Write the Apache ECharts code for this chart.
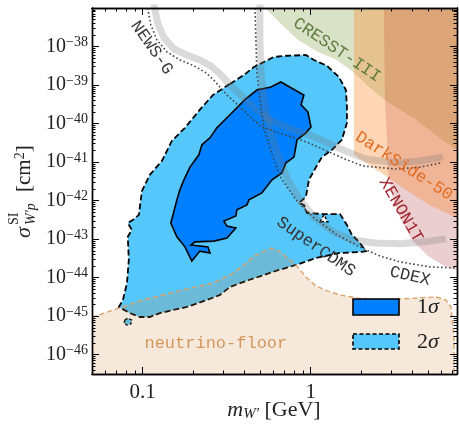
<!DOCTYPE html>
<html>
<head>
<meta charset="utf-8">
<script src="https://cdn.jsdelivr.net/npm/echarts@6/dist/echarts.min.js"></script>
<style>
  html, body { margin: 0; padding: 0; background: #fff; }
  #chart { width: 459px; height: 424px; }
</style>
</head>
<body>
<div id="chart"></div>
<script>
// Log-log plot: all coordinates are [log10(m_W' / GeV), log10(sigma / cm^2)]
const massRangeLog = [-1.30103, 0.871];
const sigmaRangeLog = [-46.5, -37];

const massTicks = [0.1, 1];
const massTickLabels = ['0.1', '1'];
const massMinorTicks = [0.06, 0.07, 0.08, 0.09, 0.2, 0.3, 0.4, 0.5, 0.6, 0.7, 0.8, 0.9, 2, 3, 4, 5, 6, 7];
const sigmaDecades = [-46, -45, -44, -43, -42, -41, -40, -39, -38];

// 2 sigma and 1 sigma regions of the fit
const contour2Sigma = [
  [-0.480,-38.97],[-0.397,-38.74],[-0.337,-38.53],[-0.278,-38.40],[-0.218,-38.27],[-0.141,-38.24],
  [-0.028,-38.22],[0.020,-38.35],[0.097,-38.50],[0.168,-38.79],[0.210,-39.13],[0.216,-39.57],
  [0.216,-39.98],[0.186,-40.42],[0.127,-40.68],[0.067,-40.87],[0.032,-41.13],[-0.010,-41.46],
  [-0.028,-41.90],[-0.069,-42.06],[-0.040,-42.11],[-0.022,-42.32],[0.079,-42.35],[0.175,-42.35],
  [0.216,-42.63],[0.246,-42.89],[0.288,-43.07],[0.329,-43.31],[0.305,-43.33],[0.168,-43.36],
  [0.032,-43.49],[-0.087,-43.67],[-0.189,-43.80],[-0.367,-44.06],[-0.480,-44.24],[-0.540,-44.45],
  [-0.617,-44.58],[-0.736,-44.76],[-0.820,-44.84],[-0.897,-44.92],[-0.957,-45.02],[-1.016,-45.02],
  [-1.076,-44.92],[-1.141,-44.76],[-1.117,-44.58],[-1.093,-44.14],[-1.082,-43.54],[-1.088,-42.94],
  [-1.064,-42.76],[-1.088,-42.58],[-1.058,-42.50],[-1.022,-42.37],[-1.004,-41.75],[-0.957,-41.33],
  [-0.885,-40.97],[-0.826,-40.45],[-0.748,-40.11],[-0.659,-39.64],[-0.582,-39.26]
];
const island2Sigma = [[-1.105,-45.10],[-1.088,-45.05],[-1.064,-45.10],[-1.070,-45.20],[-1.093,-45.23],[-1.111,-45.18]];
const hole2Sigma = [[0.055,-42.55],[0.079,-42.37],[0.103,-42.55]];
const contour1Sigma = [
  [-0.177,-38.92],[-0.117,-39.07],[-0.040,-39.26],[-0.057,-39.51],[-0.016,-39.70],[0.002,-40.09],
  [-0.028,-40.24],[-0.081,-40.42],[-0.099,-40.87],[-0.147,-41.02],[-0.171,-41.28],[-0.230,-41.46],
  [-0.290,-41.80],[-0.367,-41.98],[-0.379,-42.11],[-0.439,-42.24],[-0.445,-42.40],[-0.516,-42.53],
  [-0.498,-42.66],[-0.445,-42.71],[-0.498,-42.97],[-0.576,-43.05],[-0.689,-43.07],[-0.712,-43.15],
  [-0.611,-43.20],[-0.599,-43.36],[-0.659,-43.31],[-0.707,-43.57],[-0.748,-43.20],[-0.796,-42.94],
  [-0.832,-42.58],[-0.814,-42.29],[-0.796,-41.98],[-0.778,-41.72],[-0.754,-41.46],[-0.718,-41.13],
  [-0.665,-40.81],[-0.647,-40.55],[-0.599,-40.37],[-0.558,-40.11],[-0.480,-39.77],[-0.391,-39.38],
  [-0.320,-39.13],[-0.236,-39.05]
];

// Neutrino floor boundary
const neutrinoFloor = [
  [-1.30103,-45.03],[-1.141,-44.79],[-0.998,-44.58],[-0.855,-44.42],[-0.736,-44.29],[-0.582,-44.14],
  [-0.468,-43.90],[-0.397,-43.67],[-0.337,-43.44],[-0.278,-43.31],[-0.230,-43.23],[-0.183,-43.33],
  [-0.087,-43.67],[-0.028,-43.98],[0.032,-44.22],[0.103,-44.35],[0.175,-44.45],[0.282,-44.53],
  [0.347,-44.55],[0.549,-44.55],[0.746,-44.50],[0.805,-44.58],[0.835,-44.76],[0.853,-45.54],[0.853,-46.5]
];

// Excluded regions
const cresstBoundary = [
  [-0.271,-37.0],[-0.183,-37.38],[-0.075,-37.83],[0.044,-38.14],[0.157,-38.35],[0.252,-38.66],
  [0.353,-39.07],[0.448,-39.41],[0.627,-39.90],[0.782,-40.42],[0.871,-40.68],[0.871,-37.0]
];
const darksideBoundary = [
  [0.258,-37.0],[0.258,-40.81],[0.347,-41.07],[0.448,-41.36],[0.549,-41.67],[0.704,-42.11],
  [0.871,-42.45],[0.871,-37.0]
];
const xenonBoundary = [
  [0.436,-37.0],[0.442,-39.38],[0.454,-40.42],[0.460,-41.20],[0.484,-41.85],[0.532,-42.45],
  [0.603,-43.02],[0.698,-43.44],[0.799,-43.70],[0.871,-43.80],[0.871,-37.0]
];

// Limit curves: shaded band and dotted line
const newsGBand = [
  [-0.933,-36.9],[-0.909,-37.41],[-0.873,-37.77],[-0.814,-38.06],[-0.736,-38.22],[-0.659,-38.35],
  [-0.594,-38.50],[-0.540,-38.71],[-0.462,-39.07],[-0.379,-39.41],[-0.314,-39.67],[-0.254,-39.88],
  [-0.135,-40.11],[-0.010,-40.29],[0.115,-40.53],[0.222,-40.74],[0.329,-40.92],[0.514,-41.02],
  [0.651,-40.97],[0.788,-40.87]
];
const newsGLimit = [
  [-0.974,-36.9],[-0.951,-37.44],[-0.915,-37.83],[-0.855,-38.14],[-0.778,-38.35],[-0.695,-38.50],
  [-0.623,-38.68],[-0.576,-38.87],[-0.498,-39.26],[-0.415,-39.59],[-0.355,-39.85],[-0.290,-40.09],
  [-0.153,-40.29],[-0.022,-40.48],[0.097,-40.71],[0.204,-40.92],[0.311,-41.10],[0.508,-41.18],
  [0.651,-41.13],[0.776,-41.02]
];
const superCdmsBand = [
  [-0.302,-36.9],[-0.302,-37.83],[-0.296,-38.61],[-0.278,-39.38],[-0.242,-40.16],[-0.195,-40.81],
  [-0.135,-41.46],[-0.064,-41.98],[0.026,-42.45],[0.133,-42.81],[0.246,-43.02],[0.383,-43.10],
  [0.532,-43.12],[0.680,-43.07],[0.805,-42.99]
];
const superCdmsLimit = [
  [-0.332,-36.9],[-0.326,-37.83],[-0.320,-38.66],[-0.302,-39.38],[-0.278,-40.11],[-0.230,-40.81],
  [-0.177,-41.41],[-0.081,-42.01],[0.020,-42.45],[0.157,-42.89],[0.293,-43.20],[0.413,-43.44],
  [0.532,-43.59],[0.710,-43.72],[0.871,-43.75]
];

// Curve labels
const annotationTexts = ['NEWS-G', 'CRESST-III', 'DarkSide-50', 'XENON1T', 'SuperCDMS', 'CDEX', 'neutrino-floor'];
const annotationAnchors = [[-0.945,-38.03],[0.157,-38.09],[0.555,-41.10],[0.537,-42.24],[0.032,-43.20],[0.591,-43.96],[-0.564,-45.70]];
const annotationLook = [
  { angle: 55, color: '#3a3a3a' },
  { angle: 34, color: '#5d7c3c' },
  { angle: 33, color: '#e26d22' },
  { angle: 60, color: '#a3232e' },
  { angle: 35, color: '#333333' },
  { angle: 13, color: '#333333' },
  { angle: 0,  color: '#d4975a' }
];

const L = Math.log10;
const serif = "'Liberation Serif', 'DejaVu Serif', serif";
const mono = "'Liberation Mono', 'DejaVu Sans Mono', monospace";

const sigmaMinor = [];
for (let d = -47; d <= -38; d++) {
  for (let k = 2; k <= 9; k++) {
    const v = d + L(k);
    if (v > sigmaRangeLog[0] && v < sigmaRangeLog[1]) sigmaMinor.push(v);
  }
}

function axis(dim, position, values, len, withLabels) {
  const range = dim === 'x' ? massRangeLog : sigmaRangeLog;
  const a = {
    type: 'value', position, min: range[0], max: range[1], z: 20,
    axisLine: { show: true, onZero: false, lineStyle: { color: '#000', width: 1.4 } },
    axisTick: { show: true, inside: true, length: len, customValues: values, lineStyle: { color: '#000', width: 1 } },
    splitLine: { show: false },
    axisLabel: { show: false }
  };
  if (withLabels && dim === 'x') {
    a.axisLabel = {
      show: true, customValues: values, margin: 8, color: '#222',
      fontFamily: serif, fontSize: 21,
      formatter: v => massTickLabels[massTicks.findIndex(m => Math.abs(L(m) - v) < 1e-6)]
    };
  }
  if (withLabels && dim === 'y') {
    a.axisLabel = {
      show: true, customValues: values, margin: 4, color: '#222',
      formatter: v => '{b|10}{s|\u2212' + Math.abs(Math.round(v)) + '}',
      rich: {
        b: { fontFamily: serif, fontSize: 20, lineHeight: 22, color: '#222' },
        s: { fontFamily: serif, fontSize: 14, lineHeight: 14, verticalAlign: 'top', color: '#222' }
      }
    };
  }
  return a;
}

function polygonSeries(name, pts, style, z) {
  return {
    type: 'custom', name, z, silent: true, clip: true,
    data: pts, encode: { x: 0, y: 1 },
    renderItem(params, api) {
      if (params.dataIndex !== 0) return null;
      return { type: 'polygon', shape: { points: pts.map(p => api.coord(p)) }, style };
    }
  };
}

function lineSeries(name, pts, lineStyle, z) {
  return {
    type: 'line', name, z, data: pts, symbol: 'none', showSymbol: false,
    silent: true, clip: true, lineStyle
  };
}

const bandStyle = { color: 'rgba(120,120,120,0.27)', width: 7, cap: 'butt', join: 'round' };
const dotStyle = { color: '#444', width: 1.6, type: [1.6, 2.4], cap: 'butt' };

const series = [
  polygonSeries('CRESST-III', cresstBoundary, { fill: 'rgba(107,142,35,0.26)' }, 1),
  polygonSeries('XENON1T', xenonBoundary, { fill: 'rgba(170,50,60,0.24)' }, 2),
  polygonSeries('DarkSide-50', darksideBoundary, { fill: 'rgba(252,127,27,0.32)' }, 3),
  polygonSeries('2sigma', contour2Sigma, { fill: '#56c7fa', stroke: '#000', lineWidth: 1.8, lineDash: [6, 3] }, 4),
  polygonSeries('2sigma island', island2Sigma, { fill: '#56c7fa', stroke: '#000', lineWidth: 1.4, lineDash: [3, 2] }, 4),
  polygonSeries('2sigma hole', hole2Sigma, { fill: '#fff', stroke: '#000', lineWidth: 1.4, lineDash: [3, 2] }, 4),
  polygonSeries('1sigma', contour1Sigma, { fill: '#0080fe', stroke: '#000', lineWidth: 1.6 }, 5),
  polygonSeries('neutrino floor', neutrinoFloor.concat([[massRangeLog[0], sigmaRangeLog[0]]]), { fill: 'rgba(205,133,63,0.18)' }, 6),
  lineSeries('NEWS-G band', newsGBand, bandStyle, 7),
  lineSeries('SuperCDMS band', superCdmsBand, bandStyle, 7),
  lineSeries('NEWS-G', newsGLimit, dotStyle, 8),
  lineSeries('SuperCDMS', superCdmsLimit, dotStyle, 8),
  lineSeries('neutrino floor edge', neutrinoFloor, { color: '#dba36b', width: 1.4, type: [5, 3] }, 9),
  {
    type: 'custom', name: 'labels', z: 10, silent: true, clip: false,
    data: annotationAnchors, encode: { x: 0, y: 1 },
    renderItem(params, api) {
      const i = params.dataIndex;
      const p = api.coord(annotationAnchors[i]);
      return {
        type: 'text', x: p[0], y: p[1], rotation: -annotationLook[i].angle * Math.PI / 180,
        style: { text: annotationTexts[i], fill: annotationLook[i].color, font: '17px ' + mono, align: 'center', verticalAlign: 'middle' }
      };
    }
  }
];

const legendFont = { b: { fontFamily: serif, fontSize: 22, fill: '#222' }, i: { fontFamily: serif, fontStyle: 'italic', fontSize: 22, fill: '#222' } };

const option = {
  animation: false,
  grid: { left: 92, right: 2, top: 8, bottom: 50 },
  xAxis: [
    axis('x', 'bottom', massTicks.map(L), 7, true),
    axis('x', 'bottom', massMinorTicks.map(L), 3.5, false),
    axis('x', 'top', massTicks.map(L), 7, false),
    axis('x', 'top', massMinorTicks.map(L), 3.5, false)
  ],
  yAxis: [
    axis('y', 'left', sigmaDecades, 7, true),
    axis('y', 'left', sigmaMinor, 3.5, false),
    axis('y', 'right', sigmaDecades, 7, false),
    axis('y', 'right', sigmaMinor, 3.5, false)
  ],
  series,
  graphic: [
    // legend
    { type: 'rect', z: 30, shape: { x: 353, y: 299, width: 46, height: 16 }, style: { fill: '#0080fe', stroke: '#000', lineWidth: 1.6 } },
    { type: 'rect', z: 30, shape: { x: 353, y: 334, width: 46, height: 15 }, style: { fill: '#56c7fa', stroke: '#000', lineWidth: 1.6, lineDash: [4, 2.5] } },
    { type: 'text', z: 30, x: 417, y: 307, style: { text: '{b|1}{i|\u03c3}', rich: legendFont, verticalAlign: 'middle', align: 'left' } },
    { type: 'text', z: 30, x: 417, y: 342, style: { text: '{b|2}{i|\u03c3}', rich: legendFont, verticalAlign: 'middle', align: 'left' } },
    // x axis title
    {
      type: 'text', z: 30, x: 274, y: 410,
      style: {
        text: '{i|m}{s|W\u2032}{b| [GeV]}', align: 'center', verticalAlign: 'middle',
        rich: {
          i: { fontFamily: serif, fontStyle: 'italic', fontSize: 22, lineHeight: 24, fill: '#222' },
          s: { fontFamily: serif, fontStyle: 'italic', fontSize: 15, lineHeight: 15, verticalAlign: 'bottom', fill: '#222' },
          b: { fontFamily: serif, fontSize: 22, lineHeight: 24, fill: '#222' }
        }
      }
    },
    // y axis title
    {
      type: 'group', x: 24, y: 238, rotation: Math.PI / 2, z: 30,
      children: [
        { type: 'text', x: 0, y: 0, style: { text: '\u03c3', font: 'italic 22px ' + serif, fill: '#222', align: 'left', verticalAlign: 'middle' } },
        { type: 'text', x: 13, y: -10, style: { text: 'SI', font: '14px ' + serif, fill: '#222', align: 'left', verticalAlign: 'middle' } },
        { type: 'text', x: 13, y: 7, style: { text: 'W\u2032p', font: 'italic 14px ' + serif, fill: '#222', align: 'left', verticalAlign: 'middle' } },
        {
          type: 'text', x: 46, y: 0,
          style: {
            text: '[cm{s|2}]', align: 'left', verticalAlign: 'middle', font: '21px ' + serif, fill: '#222',
            rich: { s: { fontFamily: serif, fontSize: 14, lineHeight: 14, verticalAlign: 'top', fill: '#222' } }
          }
        }
      ]
    }
  ]
};

const chart = echarts.init(document.getElementById('chart'));
chart.setOption(option);
</script>
</body>
</html>
